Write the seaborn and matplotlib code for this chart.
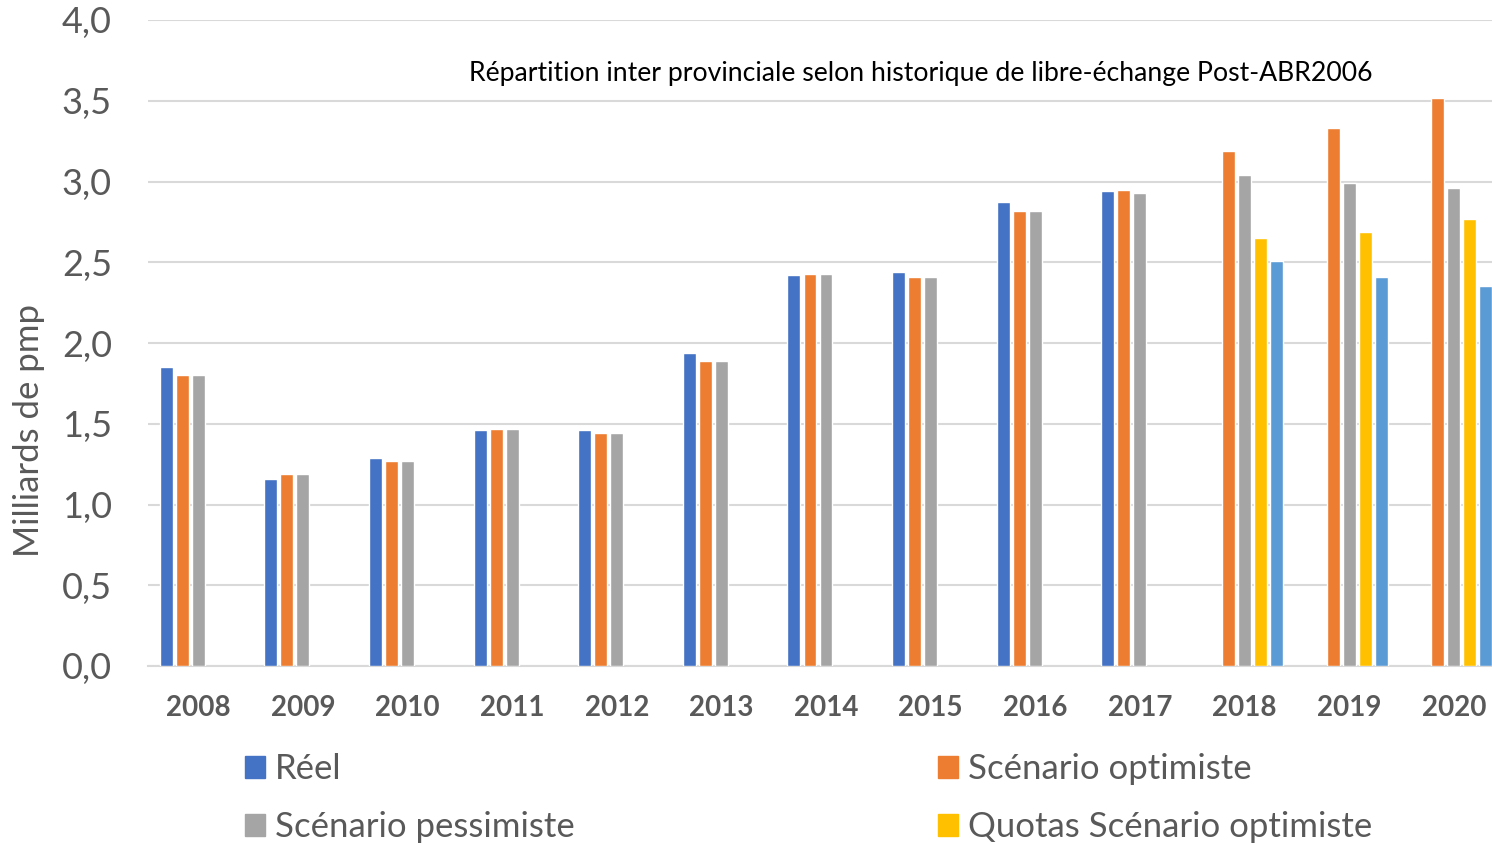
import numpy as np
import pandas as pd
import matplotlib
matplotlib.use("Agg")
import matplotlib.pyplot as plt
import seaborn as sns
from matplotlib.patches import Patch

years = ["2008", "2009", "2010", "2011", "2012", "2013", "2014",
         "2015", "2016", "2017", "2018", "2019", "2020"]

reel = [1.85, 1.16, 1.29, 1.46, 1.46, 1.94, 2.42, 2.44, 2.87, 2.94,
        None, None, None]
optimiste = [1.80, 1.19, 1.27, 1.47, 1.44, 1.89, 2.43, 2.41, 2.82, 2.95,
             3.19, 3.33, 3.52]
pessimiste = [1.80, 1.19, 1.27, 1.47, 1.44, 1.89, 2.43, 2.41, 2.82, 2.93,
              3.04, 2.99, 2.96]
quotas_opt = [None] * 10 + [2.65, 2.69, 2.77]
quotas_pess = [None] * 10 + [2.51, 2.41, 2.35]

series = ["Réel", "Scénario optimiste", "Scénario pessimiste",
          "Quotas Scénario optimiste", "Quotas Scénario pessimiste"]
colors = ["#4472C4", "#ED7D31", "#A5A5A5", "#FFC000", "#5B9BD5"]

rows = []
for name, vals in zip(series, [reel, optimiste, pessimiste, quotas_opt, quotas_pess]):
    for y, v in zip(years, vals):
        if v is not None:
            rows.append({"annee": y, "serie": name, "valeur": v})
df = pd.DataFrame(rows)

sns.set_style("white")
plt.rcParams["font.family"] = ["Lato", "DejaVu Sans"]

fig = plt.figure(figsize=(14.92, 8.44), dpi=100)
ax = fig.add_axes([148 / 1492, 178 / 844, (1504 - 148) / 1492, 646 / 844])

sns.barplot(
    data=df,
    x="annee",
    y="valeur",
    hue="serie",
    order=years,
    hue_order=series,
    palette=colors,
    errorbar=None,
    width=0.765,
    gap=0.19,
    saturation=1,
    legend=False,
    ax=ax,
    zorder=3
)

ax.set_ylim(0, 4.0)
ax.set_xlim(-0.48, 12.48)
yt = np.arange(0, 4.01, 0.5)
ax.set_yticks(yt)
ax.set_yticklabels([f"{v:.1f}".replace(".", ",") for v in yt])
ax.yaxis.grid(True, color="#D9D9D9", linewidth=1.5, zorder=0)
ax.set_axisbelow(True)

for s in ["top", "right", "left"]:
    ax.spines[s].set_visible(False)
ax.spines["bottom"].set_color("#D9D9D9")
ax.spines["bottom"].set_linewidth(1.5)

ax.tick_params(axis="y", length=0, labelsize=26, labelcolor="#595959", pad=26)
ax.tick_params(axis="x", length=0, labelsize=20, labelcolor="#595959", pad=21)
for lbl in ax.get_xticklabels():
    lbl.set_fontweight("bold")

ax.set_xlabel("")
ax.set_ylabel("Milliards de pmp", fontsize=25, color="#595959")
ax.yaxis.set_label_coords(-0.076, 0.365)

fig.text(921 / 1492, 1 - 74 / 844,
         "Répartition inter provinciale selon historique de libre-échange Post-ABR2006",
         ha="center", va="center", fontsize=19.2, color="black")

handles = [Patch(color=colors[0], label=series[0]),
           Patch(color=colors[2], label=series[2]),
           Patch(color=colors[1], label=series[1]),
           Patch(color=colors[3], label=series[3])]
leg = fig.legend(
    handles=handles,
    ncol=2,
    loc="upper left",
    bbox_to_anchor=(245 / 1492, 1 - 753 / 844),
    frameon=False,
    borderpad=0,
    borderaxespad=0,
    fontsize=25,
    handlelength=0.58,
    handleheight=0.58,
    handletextpad=0.29,
    columnspacing=10.45,
    labelspacing=0.75
)
for t in leg.get_texts():
    t.set_color("#595959")

fig.savefig("out.png", dpi=100)
